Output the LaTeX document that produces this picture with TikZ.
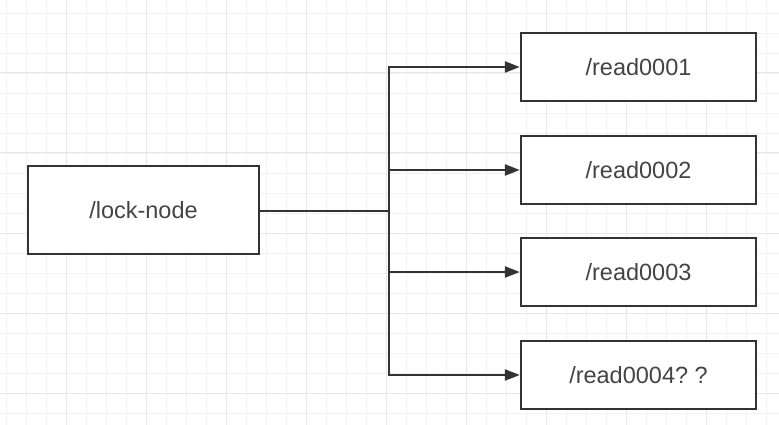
\documentclass[tikz,border=0pt]{standalone}
\usepackage{fontspec}
\setmainfont{Liberation Sans}
\usetikzlibrary{arrows.meta}

\definecolor{gridminor}{HTML}{F2F2F2}
\definecolor{gridmajor}{HTML}{E8E8E8}
\definecolor{inkdark}{HTML}{333333}
\definecolor{inktext}{HTML}{444444}

\begin{document}
\begin{tikzpicture}[x=1pt,y=-1pt,
  line cap=butt,
  line join=miter,
  box/.style={draw=inkdark,line width=2.4pt,fill=white,
    minimum width=235pt,minimum height=68pt,inner sep=0pt,
    text=inktext,font=\fontsize{23.5}{28}\selectfont},
  link/.style={draw=inkdark,line width=2.4pt},
  arrowlink/.style={link,-{Triangle[length=15pt,width=11pt]}}]

  % 背景と方眼
  \useasboundingbox (0,0) rectangle (779,425);
  \fill[white] (0,0) rectangle (779,425);
  \foreach \gx in {0,...,38}
    \draw[gridminor,line width=0.8pt] (6.7+20*\gx,0) -- (6.7+20*\gx,425);
  \foreach \gy in {0,...,20}
    \draw[gridminor,line width=0.8pt] (0,13+20*\gy) -- (779,13+20*\gy);
  \foreach \gx in {0,...,9}
    \draw[gridmajor,line width=1pt] (66.7+80*\gx,0) -- (66.7+80*\gx,425);
  \foreach \gy in {-1,...,4}
    \draw[gridmajor,line width=1pt] (0,73+80*\gy) -- (779,73+80*\gy);

  % ノード
  \node[box,minimum width=231pt,minimum height=88pt] (lock) at (143.5,210) {/lock-node};
  \node[box] (read1) at (638.5,67) {/read0001};
  \node[box] (read2) at (638.5,170) {/read0002};
  \node[box] (read3) at (638.5,272) {/read0003};
  \node[box] (read4) at (638.5,375) {/read0004?\ ?};

  % 分岐点
  \coordinate (hub) at (389,211);

  % 接続線
  \draw[link] (lock.east |- hub) -- (hub);
  \foreach \r in {read1,read2,read3,read4}
    \draw[arrowlink] (hub) |- (\r.west);

\end{tikzpicture}
\end{document}
